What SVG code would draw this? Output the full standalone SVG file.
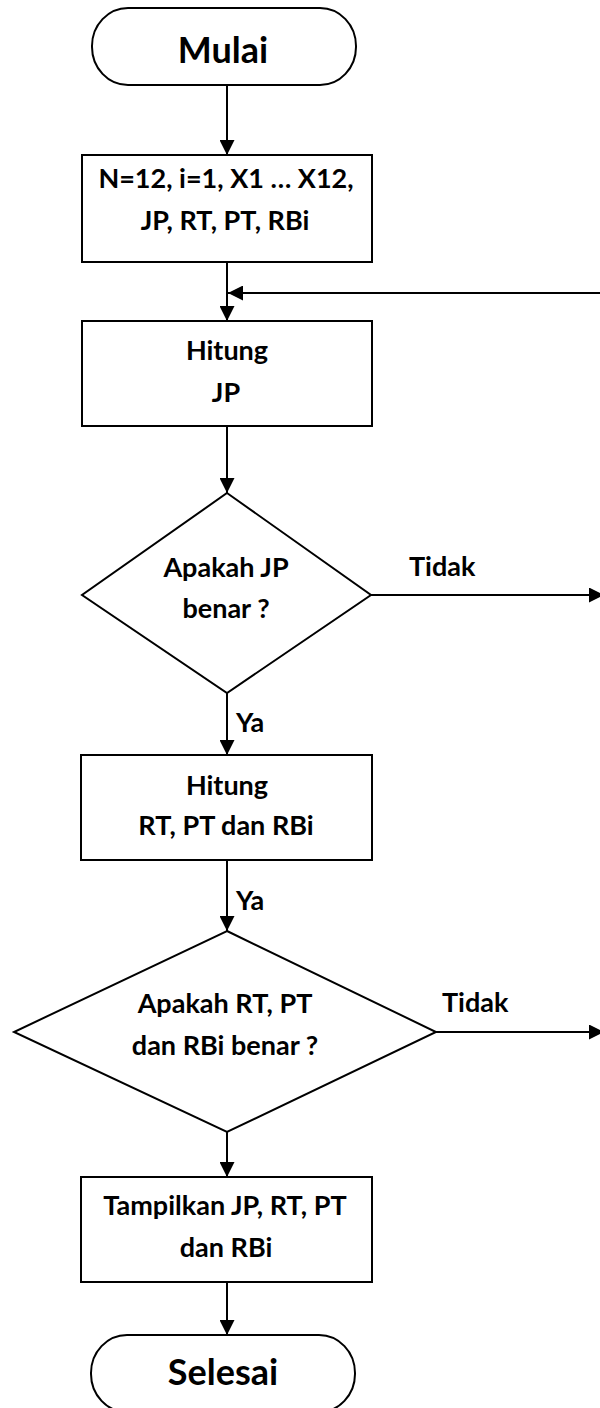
<svg xmlns="http://www.w3.org/2000/svg" width="600" height="1408" viewBox="0 0 600 1408">
<style>
  .shape { fill: #ffffff; stroke: #000000; stroke-width: 2; }
  .conn { fill: none; stroke: #000000; stroke-width: 2; }
  .t { font-family: Lato, "Liberation Sans", sans-serif; font-weight: bold; font-size: 27px; fill: #000000; text-anchor: middle; }
  .big { font-size: 36px; }
  .lbl { text-anchor: start; }
</style>
<defs>
  <marker id="arrow" viewBox="0 0 15 15" refX="15" refY="7.5" markerWidth="15" markerHeight="15" markerUnits="userSpaceOnUse" orient="auto">
    <path d="M0,0 L15,7.5 L0,15 Z" fill="#000000"/>
  </marker>
</defs>
<rect width="600" height="1408" fill="#ffffff"/>

<g id="connectors">
  <line class="conn" x1="227" y1="85" x2="227" y2="155" marker-end="url(#arrow)"/>
  <line class="conn" x1="227" y1="262" x2="227" y2="321" marker-end="url(#arrow)"/>
  <line class="conn" x1="600" y1="293" x2="228" y2="293" marker-end="url(#arrow)"/>
  <line class="conn" x1="227" y1="426" x2="227" y2="493" marker-end="url(#arrow)"/>
  <line class="conn" x1="371" y1="595" x2="604" y2="595" marker-end="url(#arrow)"/>
  <line class="conn" x1="227" y1="693" x2="227" y2="755" marker-end="url(#arrow)"/>
  <line class="conn" x1="227" y1="860" x2="227" y2="931" marker-end="url(#arrow)"/>
  <line class="conn" x1="436" y1="1032" x2="604" y2="1032" marker-end="url(#arrow)"/>
  <line class="conn" x1="227" y1="1132" x2="227" y2="1177" marker-end="url(#arrow)"/>
  <line class="conn" x1="227" y1="1282" x2="227" y2="1335" marker-end="url(#arrow)"/>
  <text class="t lbl" x="409" y="576">Tidak</text>
  <text class="t lbl" x="236" y="732">Ya</text>
  <text class="t lbl" x="236" y="910">Ya</text>
  <text class="t lbl" x="442" y="1012">Tidak</text>
</g>

<g id="start">
  <rect class="shape" x="92" y="8" width="264" height="77" rx="36" ry="38"/>
  <text class="t big" x="223" y="63">Mulai</text>
</g>

<g id="init">
  <rect class="shape" x="82" y="155" width="290" height="107"/>
  <text class="t" x="226" y="188">N=12, i=1, X1 … X12,</text>
  <text class="t" x="225" y="230">JP, RT, PT, RBi</text>
</g>

<g id="hitung-jp">
  <rect class="shape" x="82" y="321" width="290" height="105"/>
  <text class="t" x="227" y="360">Hitung</text>
  <text class="t" x="226" y="402">JP</text>
</g>

<g id="cek-jp">
  <polygon class="shape" points="227,493 371,595 227,693 82,595"/>
  <text class="t" x="226" y="577">Apakah JP</text>
  <text class="t" x="226" y="618">benar ?</text>
</g>

<g id="hitung-rt">
  <rect class="shape" x="81" y="755" width="291" height="105"/>
  <text class="t" x="227" y="795">Hitung</text>
  <text class="t" x="226" y="835">RT, PT dan RBi</text>
</g>

<g id="cek-rt">
  <polygon class="shape" points="227,931 436,1032 227,1132 14,1032"/>
  <text class="t" x="225" y="1013">Apakah RT, PT</text>
  <text class="t" x="225" y="1055">dan RBi benar ?</text>
</g>

<g id="tampilkan">
  <rect class="shape" x="81" y="1177" width="291" height="105"/>
  <text class="t" x="225" y="1215">Tampilkan JP, RT, PT</text>
  <text class="t" x="226" y="1257">dan RBi</text>
</g>

<g id="end">
  <rect class="shape" x="91" y="1335" width="264" height="77" rx="36" ry="38"/>
  <text class="t big" x="223" y="1385">Selesai</text>
</g>
</svg>
